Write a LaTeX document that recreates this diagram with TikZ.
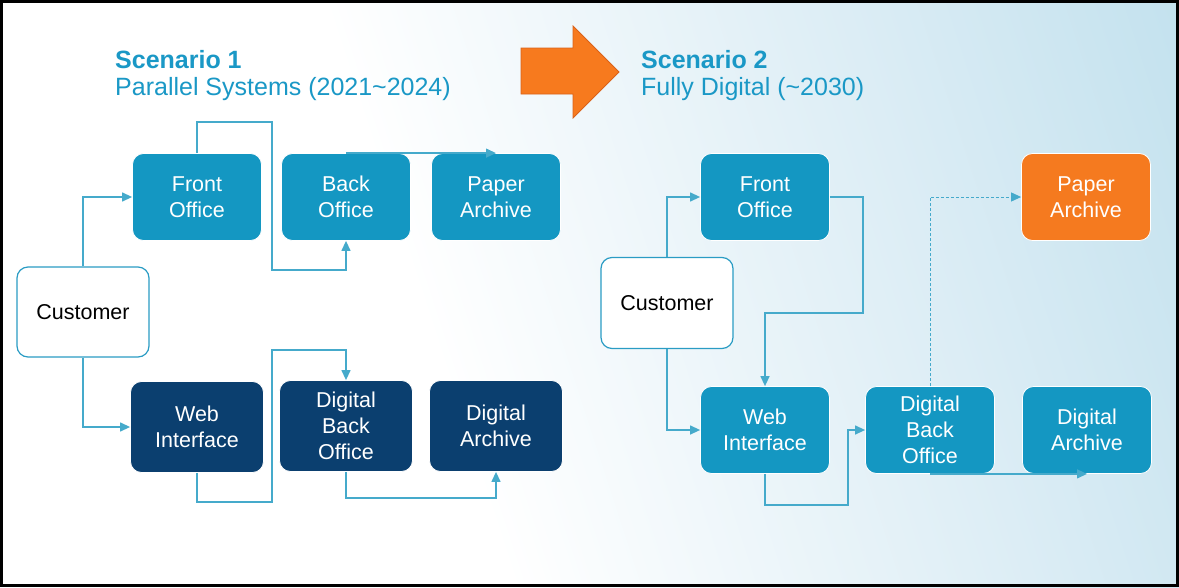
\documentclass[tikz,border=0pt]{standalone}
\usepackage{fontspec}
\setmainfont{Liberation Sans}
\usetikzlibrary{arrows.meta}
\definecolor{tealbox}{HTML}{1497C2}
\definecolor{navybox}{HTML}{0B3F6F}
\definecolor{orangebox}{HTML}{F57A1F}
\definecolor{arrowfill}{HTML}{F77A1E}
\definecolor{arrowedge}{HTML}{D9621A}
\definecolor{connc}{HTML}{45AACB}
\definecolor{titlec}{HTML}{1A98C6}
\definecolor{custedge}{HTML}{2A9CC4}
\definecolor{bgmid}{HTML}{DCEDF5}
\definecolor{bgright}{HTML}{A6D4E6}
\pgfdeclarehorizontalshading{bgshade}{100bp}{color(0bp)=(white); color(42bp)=(white); color(66bp)=(bgmid); color(100bp)=(bgright)}
\newcommand\myboxfont{\fontsize{21.5}{26}\selectfont}
\newcommand\mytitlefont{\fontsize{25}{27}\selectfont}
\tikzset{
  box/.style={rounded corners=11pt, minimum width=129pt, minimum height=87pt,
    align=center, text=white, font=\myboxfont, draw=white, line width=0.8pt, inner sep=2pt},
  tealnode/.style={box, fill=tealbox},
  navynode/.style={box, fill=navybox, minimum width=133pt, minimum height=91pt},
  orangenode/.style={box, fill=orangebox},
  custnode/.style={box, fill=white, draw=custedge, line width=1.2pt, text=black,
    minimum width=132pt, minimum height=90pt},
  conn/.style={draw=connc, line width=1.3pt, -{Triangle[length=10pt,width=9pt]}},
  dconn/.style={conn, line width=1pt, dash pattern=on 3pt off 2pt},
  titlenode/.style={anchor=north west, inner sep=0pt, align=left, text=titlec, font=\mytitlefont}
}
\begin{document}
\begin{tikzpicture}[x=1pt,y=-1pt]
\useasboundingbox (0,0) rectangle (1179,587);
\shade[shading=bgshade, shading angle=18] (0,0) rectangle (1179,587);
\draw[line width=2.5pt] (1.5,1.5) rectangle (1177.5,585.5);

% titles
\node[titlenode] (t1) at (115,50) {\textbf{Scenario 1}\\Parallel Systems (2021\char`~2024)};
\node[titlenode] (t2) at (641,50) {\textbf{Scenario 2}\\Fully Digital (\char`~2030)};

% big arrow
\filldraw[fill=arrowfill, draw=arrowedge, line width=0.8pt]
  (521,48) -- (573,48) -- (573,26) -- (619,72) -- (573,118) -- (573,94) -- (521,94) -- cycle;

% scenario 1
\node[tealnode] (fo1) at (197,197) {Front\\Office};
\node[tealnode] (bo1) at (346,197) {Back\\Office};
\node[tealnode] (pa1) at (496,197) {Paper\\Archive};
\node[custnode] (cu1) at (83,312) {Customer};
\node[navynode] (wi1) at (197,427) {Web\\Interface};
\node[navynode] (db1) at (346,426) {Digital\\Back\\Office};
\node[navynode] (da1) at (496,426) {Digital\\Archive};

\draw[conn] (cu1.north) |- (fo1.west);
\draw[conn] (cu1.south) |- (wi1.west);
\draw[conn] (fo1.north) |- (272,122) -- (272,270) -| (bo1.south);
\draw[conn] (bo1.north) -- (pa1.north);
\draw[conn] (wi1.south) |- (272,502) -- (272,350) -| (db1.north);
\draw[conn] (db1.south) |- (420,498) -| (da1.south);

% scenario 2
\node[tealnode] (fo2) at (765,197) {Front\\Office};
\node[orangenode] (pa2) at (1086,197) {Paper\\Archive};
\node[custnode, minimum height=91pt] (cu2) at (667,303) {Customer};
\node[tealnode] (wi2) at (765,430) {Web\\Interface};
\node[tealnode] (db2) at (930,430) {Digital\\Back\\Office};
\node[tealnode] (da2) at (1087,430) {Digital\\Archive};

\draw[conn] (cu2.north) |- (fo2.west);
\draw[conn] (cu2.south) |- (wi2.west);
\draw[conn] (fo2.east) -| (863,313) -| (wi2.north);
\draw[conn] (wi2.south) |- (848,505) |- (db2.west);
\draw[dconn] (db2.north) |- (pa2.west);
\draw[conn] (db2.south) -- (da2.south);
\end{tikzpicture}
\end{document}
